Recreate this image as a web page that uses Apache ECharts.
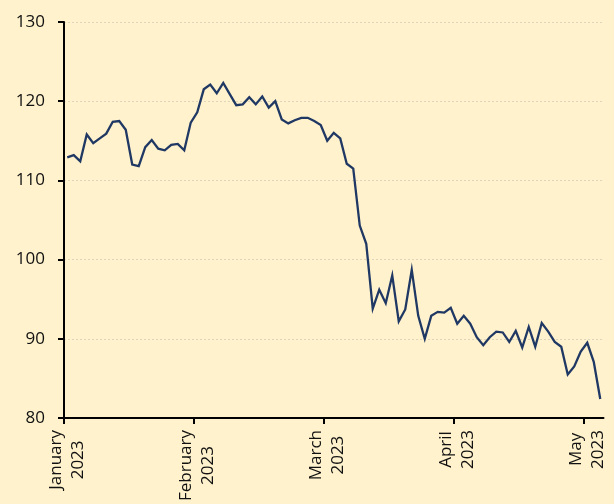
<!DOCTYPE html>
<html>
<head>
<meta charset="utf-8">
<style>
  html, body { margin: 0; padding: 0; background: #FFF2CC; }
  #chart { width: 614px; height: 504px; }
</style>
<script src="https://cdn.jsdelivr.net/npm/echarts@6/dist/echarts.min.js"></script>
</head>
<body>
<div id="chart"></div>
<script>
const values = [
  112.9, 113.2, 112.4, 115.8, 114.7, 115.3, 115.9, 117.4, 117.5, 116.4,
  112.0, 111.8, 114.2, 115.1, 114.0, 113.8, 114.5, 114.6, 113.8, 117.3,
  118.6, 121.5, 122.1, 121.0, 122.3, 120.9, 119.5, 119.6, 120.5, 119.6,
  120.6, 119.2, 120.0, 117.7, 117.2, 117.6, 117.9, 117.9, 117.5, 117.0,
  115.0, 116.0, 115.3, 112.1, 111.5, 104.3, 102.0, 93.8, 96.2, 94.5,
  98.0, 92.2, 93.7, 98.7, 92.9, 90.0, 92.9, 93.4, 93.3, 93.9,
  91.9, 92.9, 91.9, 90.2, 89.2, 90.2, 90.9, 90.8, 89.6, 91.0,
  88.9, 91.5, 89.0, 92.0, 90.9, 89.6, 89.0, 85.5, 86.5, 88.4,
  89.5, 87.1, 82.4
];
// Month tick labels and the observation at which each month starts
const monthNames = ['January', 'February', 'March', 'April', 'May'];
const monthYear = ['2023', '2023', '2023', '2023', '2023'];
const monthStartIndex = [0, 20, 40, 60, 80];
const yTicks = [80, 90, 100, 110, 120, 130];

const categories = values.map((v, i) => 'obs' + (i + 1));

const FONT = 'Open Sans';
const TEXT = '#111';

const chart = echarts.init(document.getElementById('chart'), null, { renderer: 'canvas' });
chart.setOption({
  backgroundColor: '#FFF2CC',
  animation: false,
  grid: { left: 64, top: 22, width: 539.5, height: 402, containLabel: false },
  xAxis: [{
    type: 'category',
    data: categories,
    boundaryGap: true,
    axisLine: { show: true, lineStyle: { color: '#000', width: 2 } },
    axisTick: { show: false },
    axisLabel: {
      interval: (idx) => monthStartIndex.includes(idx),
      rotate: 90,
      margin: 12,
      hideOverlap: false,
      formatter: (val, idx) => {
        const k = monthStartIndex.indexOf(idx);
        if (k < 0) return '';
        return '{c|' + monthNames[k] + '}\n{c|' + monthYear[k] + '}';
      },
      rich: {
        c: { align: 'center', fontFamily: FONT, fontSize: 17, color: TEXT, lineHeight: 22 }
      }
    },
    splitLine: { show: false }
  }, {
    // tick marks at month boundaries (no tick at the far end)
    type: 'value',
    position: 'bottom',
    min: 0,
    max: values.length,
    axisLine: { show: false },
    axisLabel: { show: false },
    splitLine: { show: false },
    axisTick: {
      show: true,
      length: 6,
      customValues: monthStartIndex,
      lineStyle: { color: '#000', width: 2 }
    }
  }],
  yAxis: {
    type: 'value',
    min: yTicks[0],
    max: yTicks[yTicks.length - 1],
    interval: 10,
    axisLine: { show: true, lineStyle: { color: '#000', width: 2 } },
    axisTick: { show: true, length: 6, lineStyle: { color: '#000', width: 2 } },
    axisLabel: { margin: 19, fontFamily: FONT, fontSize: 17, color: TEXT },
    splitLine: { show: true, lineStyle: { color: '#ddd5bc', width: 1, type: [2, 2] } }
  },
  series: [{
    type: 'line',
    xAxisIndex: 0,
    data: values,
    symbol: 'none',
    lineStyle: { color: '#203864', width: 2.3, join: 'miter' },
    itemStyle: { color: '#203864' }
  }]
});
</script>
</body>
</html>
